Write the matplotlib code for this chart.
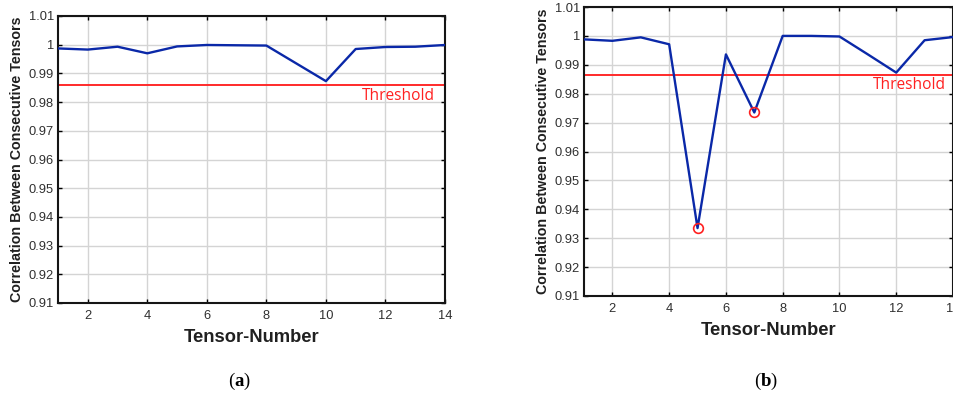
import matplotlib.pyplot as plt
import numpy as np

tensor_num = np.arange(1, 15)

corr_a = [0.9987, 0.9983, 0.9993, 0.9970, 0.9994, 0.9999, 0.9998,
          0.9997, 0.9935, 0.9873, 0.9985, 0.9992, 0.9993, 0.9999]
corr_b = [0.9988, 0.9983, 0.9995, 0.9971, 0.9335, 0.9936, 0.9735,
          1.0000, 1.0000, 0.9998, 0.9936, 0.9873, 0.9985, 0.9996]
outliers_b = [5, 7]
threshold_a = 0.9860
threshold_b = 0.9866

yticks = [0.91, 0.92, 0.93, 0.94, 0.95, 0.96, 0.97, 0.98, 0.99, 1.0, 1.01]
ytick_labels = ['0.91', '0.92', '0.93', '0.94', '0.95', '0.96', '0.97', '0.98', '0.99', '1', '1.01']
xticks = [2, 4, 6, 8, 10, 12, 14]

plt.rcParams['font.family'] = 'Liberation Sans'
plt.rcParams['mathtext.fontset'] = 'custom'
plt.rcParams['mathtext.rm'] = 'Liberation Serif'
plt.rcParams['mathtext.bf'] = 'Liberation Serif:bold'

fig = plt.figure(figsize=(9.54, 3.94), dpi=100)
W, H = 954, 394

def panel(rect, values, thr, txt_pos, outl=None):
    l, t, r, b = rect
    ax = fig.add_axes([l / W, 1 - b / H, (r - l) / W, (b - t) / H])
    ax.plot(tensor_num, values, color='#0a28a8', linewidth=1.7, zorder=3)
    ax.axhline(thr, color='#ff2a2a', linewidth=1.4, zorder=2)
    if outl is not None:
        idx = [list(tensor_num).index(o) for o in outl]
        ax.plot(tensor_num[idx], np.array(values)[idx], 'o', markersize=7,
                markerfacecolor='none', markeredgecolor='#ff2020', markeredgewidth=1.2, zorder=4)
    ax.text(txt_pos[0], txt_pos[1], 'Threshold', color='#ff2020', fontsize=11.2,
            family='Open Sans', ha='right', va='center')
    ax.set_xlim(1, 14)
    ax.set_ylim(0.91, 1.01)
    ax.set_xticks(xticks)
    ax.set_yticks(yticks)
    ax.set_yticklabels(ytick_labels)
    ax.grid(True, color='#d4d4d4', linewidth=1.0)
    ax.set_axisbelow(True)
    ax.tick_params(direction='in', top=True, right=True, length=3, width=1,
                   labelsize=9.3, labelcolor='#303030', pad=3)
    ax.tick_params(axis='x', pad=5)
    for s in ax.spines.values():
        s.set_linewidth(1.5)
        s.set_color('#151515')
    ax.set_ylabel('Correlation Between Consecutive Tensors', fontsize=10.3,
                  fontweight='bold', color='#202020', labelpad=3)
    ax.set_xlabel('Tensor-Number', fontsize=13.2, fontweight='bold', color='#202020', labelpad=5)
    return ax

ax1 = panel((58, 16, 445, 303), corr_a, threshold_a, (13.67, 0.9822))
ax2 = panel((584, 7, 953, 296), corr_b, threshold_b, (13.75, 0.9831), outliers_b)

fig.text(239 / W, 1 - 381 / H, r'($\mathbf{a}$)', fontsize=13.5, ha='center', va='center',
         family='Liberation Serif')
fig.text(766 / W, 1 - 381 / H, r'($\mathbf{b}$)', fontsize=13.5, ha='center', va='center',
         family='Liberation Serif')

fig.savefig('out.png', dpi=100)
